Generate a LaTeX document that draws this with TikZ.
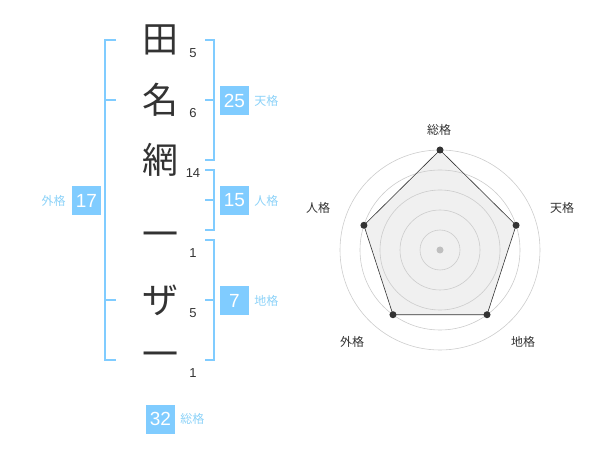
\documentclass[tikz,border=0pt]{standalone}
\usepackage{fontspec}
\setmainfont{Liberation Sans}
\newfontfamily\jp{Noto Sans CJK JP}
\usetikzlibrary{positioning}
\definecolor{kakusky}{HTML}{80CCFF}
\definecolor{kakulabel}{HTML}{8CD2F8}
\tikzset{kanji/.style = {font = \jp\fontsize{36}{36}\selectfont, text = black!80, inner sep = 0}}
\tikzset{strokes/.style = {font = \fontsize{13}{13}\selectfont, text = black!80, inner sep = 0}}
\tikzset{kakubox/.style = {fill = kakusky, text = white, minimum size = 29, inner sep = 0, font = \fontsize{19}{19}\selectfont}}
\tikzset{kakuname/.style = {font = \jp\fontsize{12}{12}\selectfont, text = kakulabel, inner sep = 0}}
\tikzset{bracket/.style = {draw = kakusky, line width = 1.5}}
\tikzset{ring/.style = {draw = black!20, line width = 0.6}}
\tikzset{vtx/.style = {fill = black!80, circle, inner sep = 0, minimum size = 7}}
\tikzset{axisname/.style = {font = \jp\fontsize{12}{12}\selectfont, text = black!80, inner sep = 0}}

\begin{document}
\begin{tikzpicture}[x = 1pt, y = -1pt]
      \useasboundingbox (0, 0) rectangle (600, 470);

      % name
      \node [kanji] (c1) at (160, 40) {田};
      \node [kanji] (c2) at (160, 100) {名};
      \node [kanji] (c3) at (160, 160) {網};
      \node [kanji] (c4) at (160, 240) {一};
      \node [kanji] (c5) at (160, 300) {ザ};
      \node [kanji] (c6) at (160, 360) {一};

      \node [strokes] (s1) at (193, 53) {5};
      \node [strokes] (s2) at (193, 113) {6};
      \node [strokes] (s3) at (193, 173) {14};
      \node [strokes] (s4) at (193, 253) {1};
      \node [strokes] (s5) at (193, 313) {5};
      \node [strokes] (s6) at (193, 373) {1};

      % brackets
      \draw [bracket] (116, 40) -- (105, 40) -- (105, 360) -- (116, 360);
      \draw [bracket] (105, 100) -- (116, 100);
      \draw [bracket] (105, 300) -- (116, 300);
      \draw [bracket] (205, 40) -- (214, 40) -- (214, 160) -- (205, 160);
      \draw [bracket] (214, 100) -- (205, 100);
      \draw [bracket] (205, 170) -- (214, 170) -- (214, 230) -- (205, 230);
      \draw [bracket] (214, 200) -- (205, 200);
      \draw [bracket] (205, 240) -- (214, 240) -- (214, 360) -- (205, 360);
      \draw [bracket] (214, 300) -- (205, 300);

      \node [kakubox] (ten) at (234.5, 100.5) {25};
      \node [kakubox] (jin) at (234.5, 200.5) {15};
      \node [kakubox] (chi) at (234.5, 300.5) {7};
      \node [kakubox] (gai) at (86.5, 200.5) {17};
      \node [kakubox] (sou) at (160.5, 419) {32};
      \node [kakuname, right = 5 of ten] (tenname) {天格};
      \node [kakuname, right = 5 of jin] (jinname) {人格};
      \node [kakuname, right = 5 of chi] (chiname) {地格};
      \node [kakuname, left = 6 of gai] (gainame) {外格};
      \node [kakuname, right = 5 of sou] (souname) {総格};

      % chart
      \begin{scope}[shift = {(440, 250)}, y = 1pt]
        \coordinate (p1) at (90:100);
        \coordinate (p2) at (18:80);
        \coordinate (p3) at (-54:80);
        \coordinate (p4) at (-126:80);
        \coordinate (p5) at (162:80);
        \fill [black!6] (p1) -- (p2) -- (p3) -- (p4) -- (p5) -- cycle;
        \foreach \r in {20, 40, ..., 100}
          \draw [ring] (0, 0) circle [radius = \r pt];
        \fill [black!25] (0, 0) circle [radius = 3.5pt];
        \draw [black!80, line width = 0.6] (p1) -- (p2) -- (p3) -- (p4) -- (p5) -- cycle;
        \foreach \p in {p1, p2, p3, p4, p5}
          \node [vtx] at (\p) {};
      \end{scope}

      \node [axisname] (a1) at (439, 130) {総格};
      \node [axisname] (a2) at (562, 208) {天格};
      \node [axisname] (a3) at (523, 342) {地格};
      \node [axisname] (a4) at (352, 342) {外格};
      \node [axisname] (a5) at (318, 208) {人格};
    \end{tikzpicture}
\end{document}
